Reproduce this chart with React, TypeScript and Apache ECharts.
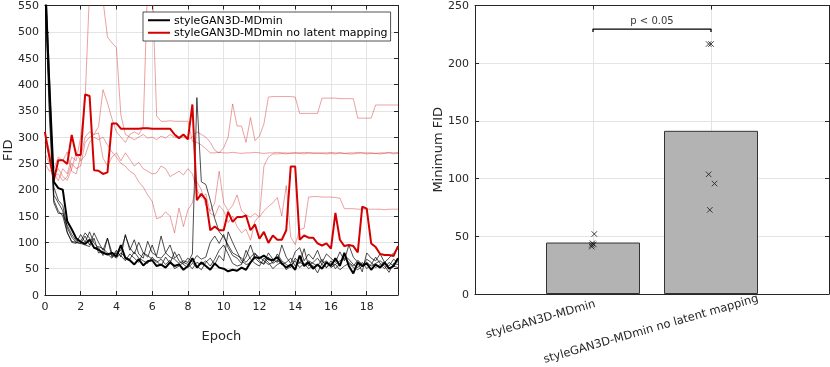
import React, { useEffect, useRef } from 'react';
import * as echarts from 'echarts';

// ---------- Left panel: FID vs epoch (80 evaluations, every 0.25 epoch) ----------
const epochs: number[] = Array.from({ length: 80 }, (_, i) => i * 0.25);
const epochTicks = [0, 2, 4, 6, 8, 10, 12, 14, 16, 18];

const legendNames = ['styleGAN3D-MDmin', 'styleGAN3D-MDmin no latent mapping'];

// styleGAN3D-MDmin, highlighted run (thick)
const blackMain = [
  600, 400, 215, 203, 200, 140, 125, 108,
  101, 97, 105, 90, 86, 80, 77, 80,
  73, 95, 70, 66, 58, 68, 56, 64,
  66, 55, 58, 52, 62, 55, 58, 48,
  55, 70, 52, 62, 55, 48, 60, 52,
  50, 45, 48, 46, 52, 48, 62, 72,
  70, 75, 68, 66, 72, 60, 52, 58,
  48, 75, 55, 62, 50, 58, 50, 62,
  55, 70, 55, 80, 55, 41, 62, 55,
  60, 48, 58, 52, 62, 50, 55, 70,
];
// styleGAN3D-MDmin, other runs (thin)
const blackRun2 = [
  620, 380, 205, 180, 170, 128, 110, 100,
  98, 112, 95, 118, 100, 85, 108, 80,
  78, 85, 113, 90, 78, 100, 80, 72,
  95, 72, 70, 80, 72, 68, 60, 65,
  62, 78, 375, 215, 210, 180, 145, 120,
  110, 95, 80, 75, 70, 62, 72, 80,
  65, 58, 72, 60, 66, 58, 62, 70,
  55, 62, 58, 65, 60, 55, 68, 52,
  60, 58, 65, 70, 62, 55, 66, 58,
  62, 55, 60, 65, 58, 55, 68, 62,
];
const blackRun3 = [
  640, 420, 190, 175, 160, 120, 100, 98,
  115, 100, 120, 98, 90, 75, 108, 72,
  85, 72, 115, 85, 105, 78, 70, 102,
  80, 75, 112, 80, 95, 70, 78, 60,
  70, 62, 75, 68, 72, 100, 112, 98,
  115, 90, 75, 70, 60, 72, 95, 70,
  62, 60, 80, 68, 62, 95, 72, 60,
  82, 90, 65, 78, 68, 85, 62, 78,
  70, 62, 82, 65, 95, 72, 62, 44,
  80, 70, 65, 78, 62, 70, 80, 88,
];
const blackRun4 = [
  600, 360, 180, 160, 150, 118, 102, 100,
  98, 95, 92, 108, 80, 82, 78, 70,
  82, 75, 65, 78, 70, 62, 80, 75,
  68, 65, 55, 72, 60, 82, 65, 58,
  52, 60, 55, 48, 62, 70, 58, 75,
  65, 120, 100, 82, 65, 58, 60, 78,
  72, 65, 58, 62, 78, 65, 58, 52,
  70, 60, 88, 55, 62, 70, 58, 52,
  65, 50, 60, 75, 68, 58, 52, 62,
  50, 58, 72, 60, 55, 43, 60, 58,
];
const blackRun5 = [
  580, 340, 175, 155, 155, 132, 115, 103,
  102, 118, 108, 88, 92, 88, 80, 76,
  70, 80, 72, 68, 82, 70, 65, 60,
  72, 62, 68, 58, 66, 50, 55, 62,
  58, 50, 62, 58, 65, 55, 68, 85,
  95, 78, 60, 55, 58, 85, 68, 60,
  55, 70, 62, 50, 58, 62, 48, 55,
  65, 52, 60, 50, 56, 42, 60, 65,
  52, 58, 48, 55, 60, 52, 48, 55,
  68, 62, 52, 58, 50, 62, 55, 52,
];

// styleGAN3D-MDmin no latent mapping, highlighted run (thick)
const redMain = [
  310, 262, 218, 256, 256, 249, 304, 266,
  266, 381, 378, 237, 236, 230, 233, 326,
  326, 316, 316, 316, 316, 316, 317, 317,
  316, 316, 316, 316, 316, 305, 298, 305,
  296, 362, 180, 192, 181, 123, 130, 123,
  123, 158, 139, 148, 148, 151, 123, 134,
  107, 120, 99, 113, 105, 105, 123, 244,
  244, 105, 113, 109, 109, 98, 94, 98,
  88, 156, 105, 93, 95, 93, 81, 168,
  164, 98, 91, 78, 76, 76, 74, 93,
];
// styleGAN3D-MDmin no latent mapping, other runs (thin)
const redRun2 = [
  290, 265, 232, 217, 240, 230, 262, 255,
  300, 370, 580, 600, 600, 560, 490, 479,
  470, 342, 305, 300, 295, 300, 305, 298,
  300, 295, 302, 298, 305, 300, 298, 300,
  295, 300, 310, 305, 300, 290, 275, 270,
  280, 300, 363, 321, 321, 290, 337, 293,
  302, 325, 376, 377, 377, 377, 377, 377,
  376, 345, 345, 345, 345, 345, 374, 374,
  374, 374, 373, 373, 373, 373, 336, 336,
  336, 336, 361, 361, 361, 361, 361, 361,
];
const redRun3 = [
  305, 275, 226, 230, 217, 225, 250, 240,
  245, 290, 300, 305, 320, 390, 365, 335,
  310, 300, 290, 305, 310, 305, 320, 600,
  600, 340, 330, 330, 331, 330, 330, 330,
  330, 292, 290, 285, 278, 270, 270, 271,
  270, 270, 271, 270, 269, 270, 270, 271,
  270, 269, 270, 270, 271, 270, 270, 269,
  270, 270, 271, 270, 270, 269, 270, 270,
  271, 270, 270, 269, 270, 270, 271, 270,
  270, 270, 269, 270, 270, 271, 270, 271,
];
const redRun4 = [
  250, 235, 240, 262, 255, 272, 235, 230,
  262, 300, 310, 305, 308, 260, 245, 262,
  270, 255, 270, 258, 245, 252, 240, 235,
  230, 232, 245, 240, 225, 230, 235, 228,
  240, 230, 200, 185, 192, 155, 150, 170,
  160, 138, 150, 130, 118, 125, 104, 140,
  150, 245, 262, 268, 268, 269, 268, 270,
  270, 269, 268, 270, 269, 270, 269, 268,
  269, 268, 270, 269, 268, 268, 269, 270,
  268, 269, 269, 268, 269, 270, 268, 269,
];
const redRun5 = [
  270, 250, 228, 240, 225, 218, 240, 270,
  255, 265, 290, 300, 295, 300, 285, 272,
  262, 250, 245, 235, 230, 215, 205, 190,
  178, 145, 148, 158, 150, 118, 165, 130,
  162, 175, 215, 200, 170, 160, 175, 235,
  175, 160, 170, 190, 160, 152, 148, 155,
  148, 160, 168, 175, 185, 150, 208, 110,
  96, 124, 127, 186, 187, 187, 186, 186,
  186, 185, 184, 164, 164, 164, 163, 163,
  163, 163, 163, 163, 162, 163, 163, 163,
];

// ---------- Right panel: minimum FID per model ----------
const categories = ['styleGAN3D-MDmin', 'styleGAN3D-MDmin no latent mapping'];
const barValues = [44.6, 141.4];
const minFidGroup1 = [52, 44, 43, 42.5, 41];
const minFidGroup2 = [216.6, 216.6, 103.7, 95.7, 72.9];
const jitterGroup1 = [0.011, -0.005, 0.006, -0.01, -0.011];
const jitterGroup2 = [-0.02, 0.0, -0.02, 0.03, -0.01];
const sigLabel = 'p < 0.05';
const sigBracket = { top: 229.6, foot: 227 };

const FONT = 'DejaVu Sans';
const AX = '#262626';
const GRID = '#e4e4e4';

function toPts(vals: number[]) {
  return vals.map((v, i) => [epochs[i], v]);
}

export default function App() {
  const ref = useRef<HTMLDivElement>(null);
  useEffect(() => {
    const chart = echarts.init(ref.current!, null, { renderer: 'svg' });

    const axisBase = {
      axisLine: { show: true, onZero: false, lineStyle: { color: AX, width: 1 } },
      axisTick: { show: true, inside: true, length: 4, lineStyle: { color: AX } },
    };

    const thin = (name: string, data: number[], color: string, width: number) => ({
      type: 'line',
      name,
      xAxisIndex: 0,
      yAxisIndex: 0,
      data: toPts(data),
      symbol: 'none',
      showSymbol: false,
      silent: true,
      lineStyle: { color, width },
      itemStyle: { color },
      z: 2,
    });

    const redThin = 'rgba(210,40,40,0.55)';

    const option: any = {
      animation: false,
      textStyle: { fontFamily: FONT },
      grid: [
        { left: 42, top: 4, width: 356, height: 291 },
        { left: 475, top: 5, width: 354, height: 289 },
      ],
      legend: {
        data: legendNames.map((n) => ({ name: n, icon: 'rect' })),
        orient: 'vertical',
        left: 143,
        top: 12,
        padding: [2, 3, 2, 5],
        itemGap: 0,
        itemWidth: 22,
        itemHeight: 2,
        selectedMode: false,
        backgroundColor: '#ffffff',
        borderColor: AX,
        borderWidth: 0.8,
        borderRadius: 0,
        textStyle: { fontSize: 11, lineHeight: 12.5, color: '#000', fontFamily: FONT, padding: [0, 0, 0, -1] },
      },
      xAxis: [
        {
          gridIndex: 0, type: 'value', min: 0, max: 19.75, interval: 2,
          name: 'Epoch', nameLocation: 'middle', nameGap: 34,
          nameTextStyle: { fontSize: 13, color: AX, fontFamily: FONT },
          ...axisBase,
          axisLabel: {
            fontSize: 11, color: AX, margin: 6, fontFamily: FONT,
            formatter: (v: number) => (epochTicks.includes(v) ? String(v) : ''),
          },
          splitLine: { show: true, lineStyle: { color: GRID } },
        },
        {
          gridIndex: 0, type: 'value', min: 0, max: 19.75, interval: 2, position: 'top',
          ...axisBase, axisLabel: { show: false }, splitLine: { show: false },
        },
        {
          gridIndex: 1, type: 'value', min: 0, max: 3, interval: 1,
          ...axisBase, axisLabel: { show: false },
          splitLine: { show: true, lineStyle: { color: GRID } },
        },
        {
          gridIndex: 1, type: 'value', min: 0, max: 3, interval: 1, position: 'top',
          ...axisBase, axisLabel: { show: false }, splitLine: { show: false },
        },
      ],
      yAxis: [
        {
          gridIndex: 0, type: 'value', min: 0, max: 550, interval: 50,
          name: 'FID', nameLocation: 'middle', nameGap: 24,
          nameTextStyle: { fontSize: 13, color: AX, fontFamily: FONT },
          ...axisBase,
          axisLabel: { fontSize: 11, color: AX, margin: 6, fontFamily: FONT },
          splitLine: { show: true, lineStyle: { color: GRID } },
        },
        {
          gridIndex: 0, type: 'value', min: 0, max: 550, interval: 50, position: 'right',
          ...axisBase, axisLabel: { show: false }, splitLine: { show: false },
        },
        {
          gridIndex: 1, type: 'value', min: 0, max: 250, interval: 50,
          name: 'Minimum FID', nameLocation: 'middle', nameGap: 30,
          nameTextStyle: { fontSize: 13, color: AX, fontFamily: FONT },
          ...axisBase,
          axisLabel: { fontSize: 11, color: AX, margin: 6, fontFamily: FONT },
          splitLine: { show: true, lineStyle: { color: GRID } },
        },
        {
          gridIndex: 1, type: 'value', min: 0, max: 250, interval: 50, position: 'right',
          ...axisBase, axisLabel: { show: false }, splitLine: { show: false },
        },
      ],
      series: [
        thin('no-mapping run 2', redRun2, redThin, 0.8),
        thin('no-mapping run 3', redRun3, redThin, 0.8),
        thin('no-mapping run 4', redRun4, redThin, 0.8),
        thin('no-mapping run 5', redRun5, redThin, 0.8),
        thin('MDmin run 2', blackRun2, '#000', 0.7),
        thin('MDmin run 3', blackRun3, '#000', 0.7),
        thin('MDmin run 4', blackRun4, '#000', 0.7),
        thin('MDmin run 5', blackRun5, '#000', 0.7),
        { ...thin(legendNames[1], redMain, '#d40000', 2), z: 3 },
        { ...thin(legendNames[0], blackMain, '#000', 2), z: 4 },
        {
          type: 'bar',
          name: 'Minimum FID',
          xAxisIndex: 2,
          yAxisIndex: 2,
          data: barValues.map((v, i) => [i + 1, v]),
          barWidth: 94,
          silent: true,
          itemStyle: { color: '#b3b3b3', borderColor: '#333333', borderWidth: 1 },
          z: 2,
        },
        {
          type: 'scatter',
          name: 'runs',
          xAxisIndex: 2,
          yAxisIndex: 2,
          data: [
            ...minFidGroup1.map((v, i) => [1 + jitterGroup1[i], v]),
            ...minFidGroup2.map((v, i) => [2 + jitterGroup2[i], v]),
          ],
          symbol: 'path://M0 0L10 10M10 0L0 10',
          symbolSize: 5.5,
          silent: true,
          itemStyle: { color: 'rgba(0,0,0,0)', borderColor: '#1a1a1a', borderWidth: 1 },
          z: 5,
        },
        {
          type: 'line',
          name: 'significance',
          xAxisIndex: 2,
          yAxisIndex: 2,
          data: [[1, sigBracket.foot], [1, sigBracket.top], [2, sigBracket.top], [2, sigBracket.foot]],
          symbol: 'none',
          silent: true,
          lineStyle: { color: '#000', width: 1.3 },
          z: 5,
        },
        {
          type: 'scatter',
          name: 'sig-label',
          xAxisIndex: 2,
          yAxisIndex: 2,
          data: [[1.5, sigBracket.top]],
          symbolSize: 1,
          silent: true,
          itemStyle: { color: 'rgba(0,0,0,0)' },
          label: {
            show: true, position: 'top', distance: 3, formatter: sigLabel,
            fontSize: 10, color: '#000', fontFamily: FONT,
          },
          z: 5,
        },
      ],
      graphic: [
        {
          type: 'text', x: 595, y: 303, rotation: (16 * Math.PI) / 180, silent: true,
          style: { text: categories[0], align: 'right', verticalAlign: 'middle', fontSize: 11.5, fontFamily: FONT, fill: AX },
        },
        {
          type: 'text', x: 758, y: 297.5, rotation: (16 * Math.PI) / 180, silent: true,
          style: { text: categories[1], align: 'right', verticalAlign: 'middle', fontSize: 11.5, fontFamily: FONT, fill: AX },
        },
      ],
    };

    chart.setOption(option);
    return () => chart.dispose();
  }, []);

  return <div ref={ref} style={{ position: 'fixed', left: 0, top: 0, width: 830, height: 367 }} />;
}
